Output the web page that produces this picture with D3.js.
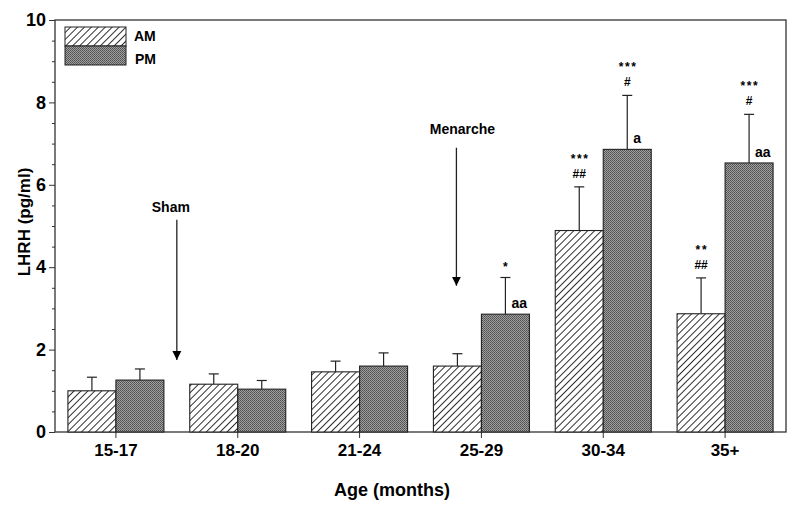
<!DOCTYPE html>
<html><head><meta charset="utf-8">
<script src="https://cdn.jsdelivr.net/npm/d3@7"></script>
<style>body{margin:0;background:#fff;} text{font-family:"Liberation Sans",Arial,sans-serif;}</style>
</head><body><svg id="c" width="800" height="505"></svg>
<script>
const categories = ["15-17","18-20","21-24","25-29","30-34","35+"];
const amValues = [1.0, 1.16, 1.46, 1.6, 4.89, 2.87];
const amErr    = [0.33, 0.25, 0.26, 0.3, 1.06, 0.87];
const pmValues = [1.26, 1.04, 1.6, 2.86, 6.86, 6.53];
const pmErr    = [0.27, 0.21, 0.32, 0.89, 1.31, 1.18];
const amMarks = ["", "", "", "", "***|##", "**|##"];
const pmMarks = ["", "", "", "*", "***|#", "***|#"];
const pmLetters = ["", "", "", "aa", "a", "aa"];
const yTicks = [0,2,4,6,8,10];
const seriesNames = ["AM","PM"];

const svg = d3.select("#c");
const M = {l:55, r:786, t:20, b:432};
const x = d3.scaleBand().domain(categories).range([M.l, M.r]).paddingInner(0).paddingOuter(0);
const y = d3.scaleLinear().domain([0,10]).range([M.b, M.t]);
const bw = 48;

const defs = svg.append("defs");
const hp = defs.append("pattern").attr("id","hatch").attr("patternUnits","userSpaceOnUse")
  .attr("width",4.9).attr("height",4.9).attr("patternTransform","rotate(45)");
hp.append("rect").attr("width",4.9).attr("height",4.9).attr("fill","#fff");
hp.append("line").attr("x1",0.5).attr("y1",0).attr("x2",0.5).attr("y2",4.9).attr("stroke","#1a1a1a").attr("stroke-width",0.9);
const dp = defs.append("pattern").attr("id","dots").attr("patternUnits","userSpaceOnUse").attr("width",2).attr("height",2);
dp.append("rect").attr("width",2).attr("height",2).attr("fill","#a0a0a0");
dp.append("rect").attr("width",1).attr("height",1).attr("fill","#4e4e4e");
dp.append("rect").attr("x",1).attr("y",1).attr("width",1).attr("height",1).attr("fill","#5e5e5e");
const ah = defs.append("marker").attr("id","arr").attr("viewBox","0 0 10 10").attr("refX",10).attr("refY",5)
  .attr("markerWidth",9).attr("markerHeight",10).attr("markerUnits","userSpaceOnUse").attr("orient","auto");
ah.append("path").attr("d","M0,0L10,5L0,10Z").attr("fill","#000");

svg.append("rect").attr("x",M.l).attr("y",M.t).attr("width",M.r-M.l).attr("height",M.b-M.t)
  .attr("fill","none").attr("stroke","#333").attr("stroke-width",1.3);

const cx = c => x(c) + x.bandwidth()/2;

function errBar(xc, v, e){
  svg.append("line").attr("x1",xc).attr("x2",xc).attr("y1",y(v)).attr("y2",y(v+e)).attr("stroke","#222").attr("stroke-width",1.2);
  svg.append("line").attr("x1",xc-5).attr("x2",xc+5).attr("y1",y(v+e)).attr("y2",y(v+e)).attr("stroke","#222").attr("stroke-width",1.2);
}
categories.forEach((c,i)=>{
  errBar(cx(c)-bw/2, amValues[i], amErr[i]);
  errBar(cx(c)+bw/2, pmValues[i], pmErr[i]);
});
svg.selectAll(".am").data(categories).join("rect").attr("class","am")
  .attr("x",c=>cx(c)-bw).attr("width",bw).attr("y",(c,i)=>y(amValues[i])).attr("height",(c,i)=>y(0)-y(amValues[i]))
  .attr("fill","url(#hatch)").attr("stroke","#222").attr("stroke-width",1.1);
svg.selectAll(".pm").data(categories).join("rect").attr("class","pm")
  .attr("x",c=>cx(c)).attr("width",bw).attr("y",(c,i)=>y(pmValues[i])).attr("height",(c,i)=>y(0)-y(pmValues[i]))
  .attr("fill","url(#dots)").attr("stroke","#222").attr("stroke-width",1.1);

function marks(xc, top, str){
  if(!str) return;
  const parts = str.split("|");
  const cap = y(top);
  parts.forEach((p,k)=>{
    const star = p.includes("*");
    const centre = cap - 13 - (parts.length-1-k)*17;
    svg.append("text").attr("x",xc+(star?0.8:0)).attr("y", star ? centre+6 : centre+4).attr("text-anchor","middle")
      .attr("font-size", 12).attr("font-weight", "bold")
      .attr("letter-spacing", star?"1.6":"0").text(p);
  });
}
categories.forEach((c,i)=>{
  marks(cx(c)-bw/2, amValues[i]+amErr[i], amMarks[i]);
  marks(cx(c)+bw/2, pmValues[i]+pmErr[i], pmMarks[i]);
  if(pmLetters[i]) svg.append("text").attr("x",cx(c)+bw/2+6).attr("y",y(pmValues[i])-6)
     .attr("text-anchor","start").attr("font-size",14).attr("font-weight","bold").text(pmLetters[i]);
});

const ya = svg.append("g").attr("transform",`translate(${M.l},0)`)
  .call(d3.axisLeft(y).tickValues(yTicks).tickSize(6).tickPadding(3));
ya.select(".domain").remove();
ya.selectAll("text").attr("font-size",18).attr("font-weight","bold").attr("fill","#000")
  .attr("font-family","Liberation Sans, Arial, sans-serif");
ya.selectAll("line").attr("stroke","#333");
svg.append("g").attr("transform",`translate(${M.l},0)`)
  .call(d3.axisLeft(y).tickValues(d3.range(1,20,1).map(d=>d/2).filter(d=>d%2!==0)).tickSize(3).tickFormat(""))
  .call(g=>{g.select(".domain").remove(); g.selectAll("line").attr("stroke","#333");});
const xa = svg.append("g").attr("transform",`translate(0,${M.b})`)
  .call(d3.axisBottom(x).tickSize(6).tickPadding(6));
xa.select(".domain").remove();
xa.selectAll("text").attr("font-size",17).attr("font-weight","bold").attr("fill","#000")
  .attr("font-family","Liberation Sans, Arial, sans-serif");
xa.selectAll("line").attr("stroke","#333");

svg.append("text").attr("transform","translate(30,222) rotate(-90)").attr("text-anchor","middle")
  .attr("font-size",17).attr("font-weight","bold").text("LHRH (pg/ml)");
svg.append("text").attr("x",392).attr("y",496).attr("text-anchor","middle")
  .attr("font-size",18).attr("font-weight","bold").text("Age (months)");

function arrow(label, xc, dx, yText, y1, y2){
  svg.append("text").attr("x",xc+dx).attr("y",yText).attr("text-anchor","middle").attr("font-size",14).attr("font-weight","bold").text(label);
  svg.append("line").attr("x1",xc).attr("x2",xc).attr("y1",y1).attr("y2",y2).attr("stroke","#222").attr("stroke-width",1.3).attr("marker-end","url(#arr)");
}
const midX = (a,b)=> (cx(a)+cx(b))/2;
arrow("Sham", midX("15-17","18-20"), -6, 212, y(5.15), y(1.75));
arrow("Menarche", cx("25-29")-25, 6, 134, y(6.9), y(3.55));

const lg = svg.append("g");
lg.append("rect").attr("x",65).attr("y",27).attr("width",61).attr("height",19).attr("fill","url(#hatch)").attr("stroke","#222");
lg.append("rect").attr("x",65).attr("y",46).attr("width",61).attr("height",19).attr("fill","url(#dots)").attr("stroke","#222");
lg.append("text").attr("x",134).attr("y",41).attr("font-size",14).attr("font-weight","bold").text(seriesNames[0]);
lg.append("text").attr("x",135).attr("y",64).attr("font-size",14).attr("font-weight","bold").text(seriesNames[1]);
</script></body></html>
